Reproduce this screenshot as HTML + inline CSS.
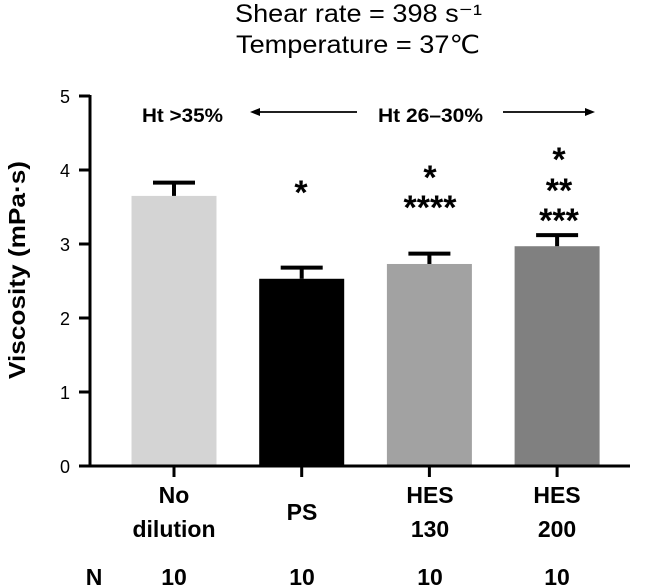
<!DOCTYPE html>
<html><head><meta charset="utf-8"><style>
body{margin:0;background:#fff;}
svg{font-family:"Liberation Sans",Arial,sans-serif;display:block}
</style></head><body>
<svg width="646" height="588">
<text x="235" y="22" font-size="25" textLength="247" lengthAdjust="spacingAndGlyphs">Shear rate = 398 s⁻¹</text>
<text x="236" y="53" font-size="25" textLength="244" lengthAdjust="spacingAndGlyphs">Temperature = 37℃</text>
<text transform="translate(25,270) rotate(-90)" font-size="23" font-weight="bold" text-anchor="middle" textLength="218" lengthAdjust="spacingAndGlyphs">Viscosity (mPa·s)</text>
<g id="axes"></g><g id="bars"></g>
<text x="142" y="122" font-size="19" font-weight="bold" textLength="81" lengthAdjust="spacingAndGlyphs">Ht &gt;35%</text>
<text x="378" y="122" font-size="19" font-weight="bold" textLength="105" lengthAdjust="spacingAndGlyphs">Ht 26–30%</text>
<line x1="357" y1="112" x2="254" y2="112" stroke="#000" stroke-width="1.8"/>
<polygon points="250,112 260,108 260,116" fill="#000"/>
<line x1="503" y1="112" x2="590" y2="112" stroke="#000" stroke-width="1.8"/>
<polygon points="595,112 585,108 585,116" fill="#000"/>
<g font-size="34" font-weight="bold" text-anchor="middle">
<text x="301" y="204">*</text>
<text x="430" y="189">*</text><text x="430" y="219">****</text>
<text x="559" y="171">*</text><text x="559" y="202">**</text><text x="559" y="232">***</text>
</g>
<g font-size="23" font-weight="bold" text-anchor="middle">
<text x="174" y="503">No</text><text x="174" y="537">dilution</text>
<text x="302" y="520">PS</text>
<text x="430" y="503">HES</text><text x="430" y="537">130</text>
<text x="557" y="503">HES</text><text x="557" y="537">200</text>
</g>
<g font-size="23" font-weight="bold" text-anchor="middle">
<text x="94" y="585">N</text>
<text x="174" y="585">10</text><text x="302" y="585">10</text><text x="430" y="585">10</text><text x="557" y="585">10</text>
</g>
</svg>
<script>
const categories=["No dilution","PS","HES 130","HES 200"];
const means=[3.65,2.53,2.73,2.97];
const errors=[0.18,0.15,0.14,0.15];
const colors=["#d4d4d4","#000000","#a2a2a2","#808080"];
const yTicks=[0,1,2,3,4,5];
const NS="http://www.w3.org/2000/svg";
const y0=466,y5=96,yMax=5,axisX=90;
function yScale(v){return y0-(y0-y5)*v/yMax;}
function xCenter(i){return 174+i*127.7;}
const barW=85;
function mk(t,a,p){const e=document.createElementNS(NS,t);for(const k in a)e.setAttribute(k,a[k]);p.appendChild(e);return e;}
const ax=document.getElementById('axes');
const yl=mk('line',{x1:axisX,y1:y5-1,x2:axisX,y2:y0+1.5,stroke:'#000','stroke-width':3},ax);


const xl=mk('line',{x1:79,y1:y0,x2:630,y2:y0,stroke:'#000','stroke-width':3},ax);


yTicks.forEach(t=>{
 const y=yScale(t);
 mk('line',{x1:79,y1:y,x2:axisX,y2:y,stroke:'#000','stroke-width':3},ax);
 const tx=mk('text',{x:70,y:y+7,'font-size':18,'text-anchor':'end'},ax);
 tx.textContent=t;
 
 
});
const bg=document.getElementById('bars');
categories.forEach((c,i)=>{
 const cx=xCenter(i);
 mk('line',{x1:cx,y1:y0,x2:cx,y2:y0+11,stroke:'#000','stroke-width':3},ax);
 const r=mk('rect',{x:cx-barW/2,y:yScale(means[i]),width:barW,height:y0-1.5-yScale(means[i]),fill:colors[i]},bg);
 
 
 const et=yScale(means[i]+errors[i]);
 const g=mk('g',{stroke:'#000','stroke-width':4},bg);
 
 
 mk('line',{x1:cx,y1:yScale(means[i]),x2:cx,y2:et},g);
 mk('line',{x1:cx-21,y1:et,x2:cx+21,y2:et},g);
});
</script>
</body></html>
